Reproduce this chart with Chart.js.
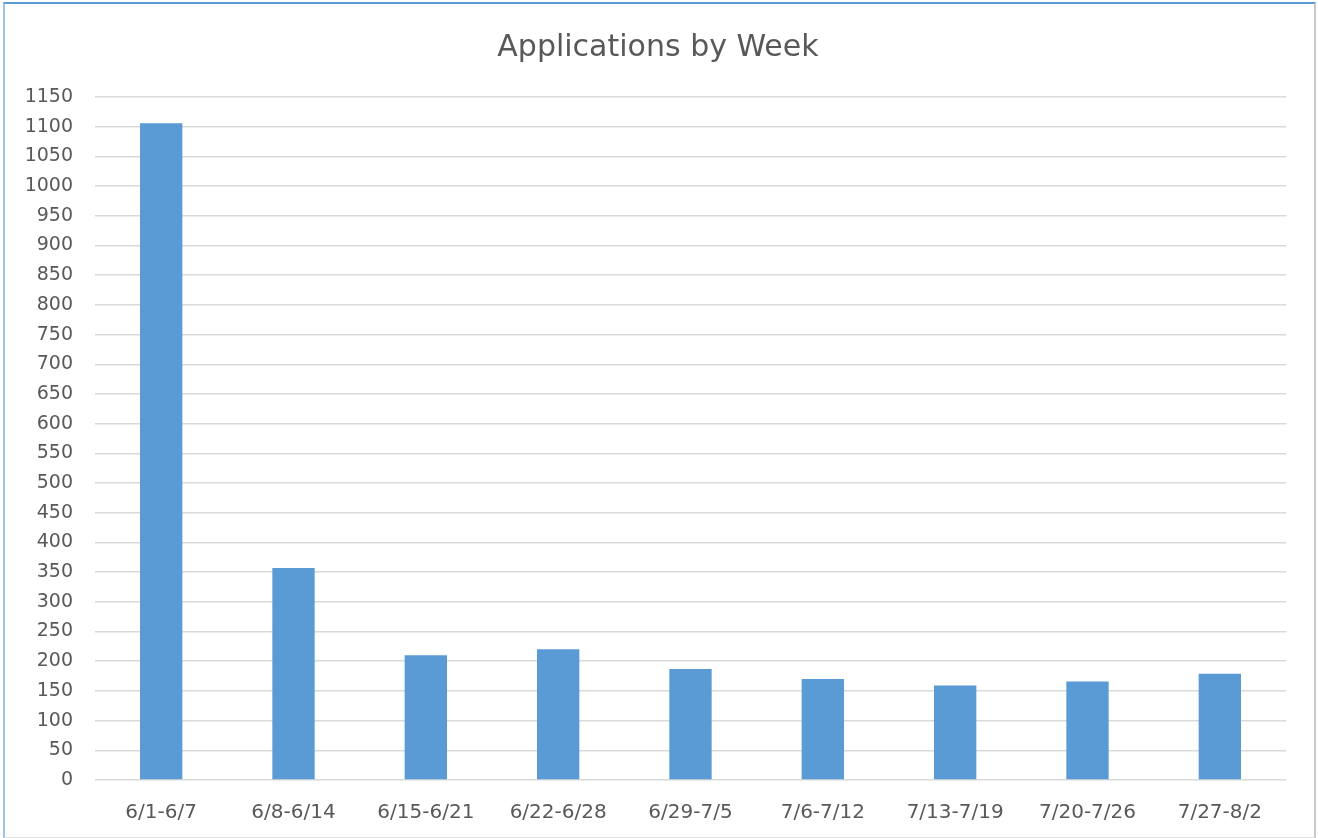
<!DOCTYPE html>
<html>
<head>
<meta charset="utf-8">
<script src="https://cdn.jsdelivr.net/npm/chart.js@4/dist/chart.umd.min.js"></script>
<style>
  html, body { margin: 0; padding: 0; background: #fff; }
  #wrap { position: relative; width: 1318px; height: 838px; }
  #frame {
    position: absolute; left: 3px; top: 2px; width: 1309px; height: 833px;
    border-top: 2px solid #5B9BD5; border-left: 2px solid #9DC3E6;
    border-right: 2px solid #C8C8C8; border-bottom: 1px solid #E0E0E0;
    pointer-events: none;
  }
</style>
</head>
<body>
<div id="wrap">
  <canvas id="chart" width="1318" height="838"></canvas>
  <div id="frame"></div>
</div>
<script>
const weeks = ['6/1-6/7', '6/8-6/14', '6/15-6/21', '6/22-6/28', '6/29-7/5',
  '7/6-7/12', '7/13-7/19', '7/20-7/26', '7/27-8/2'];
const applications = [1106, 357, 210, 220, 187, 170, 159, 166, 179];

const textColor = '#595959';
const fontFamily = '"DejaVu Sans", sans-serif';

// centre the title over the whole canvas, not just the padded box
const shiftTitle = {
  id: 'shiftTitle',
  afterLayout(chart) {
    if (chart.titleBlock) {
      chart.titleBlock.left += 15;
      chart.titleBlock.right += 15;
    }
  },
};

new Chart(document.getElementById('chart'), {
  type: 'bar',
  data: {
    labels: weeks,
    datasets: [{
      label: 'Applications',
      data: applications,
      backgroundColor: '#5B9BD5',
      categoryPercentage: 1,
      barPercentage: 0.32,
    }],
  },
  plugins: [shiftTitle],
  options: {
    responsive: false,
    animation: false,
    layout: { padding: { left: 0, right: 32, top: 0, bottom: 0 } },
    plugins: {
      legend: { display: false },
      tooltip: { enabled: false },
      title: {
        display: true,
        text: 'Applications by Week',
        color: textColor,
        font: { family: fontFamily, size: 30, weight: 'normal' },
        padding: { top: 30, bottom: 31 },
      },
    },
    scales: {
      x: {
        grid: { display: false },
        border: { display: false },
        ticks: {
          color: textColor,
          font: { family: fontFamily, size: 20 },
          padding: 13,
          maxRotation: 0,
        },
        afterFit: (scale) => { scale.height = 58; },
      },
      y: {
        min: 0,
        max: 1150,
        grid: { color: '#D9D9D9', lineWidth: 1.5, drawTicks: false },
        border: { display: false },
        ticks: {
          stepSize: 50,
          color: textColor,
          font: { family: fontFamily, size: 19 },
          padding: 22,
          callback: (value) => String(value),
        },
        afterFit: (scale) => { scale.width = 95; },
      },
    },
  },
});
</script>
</body>
</html>
